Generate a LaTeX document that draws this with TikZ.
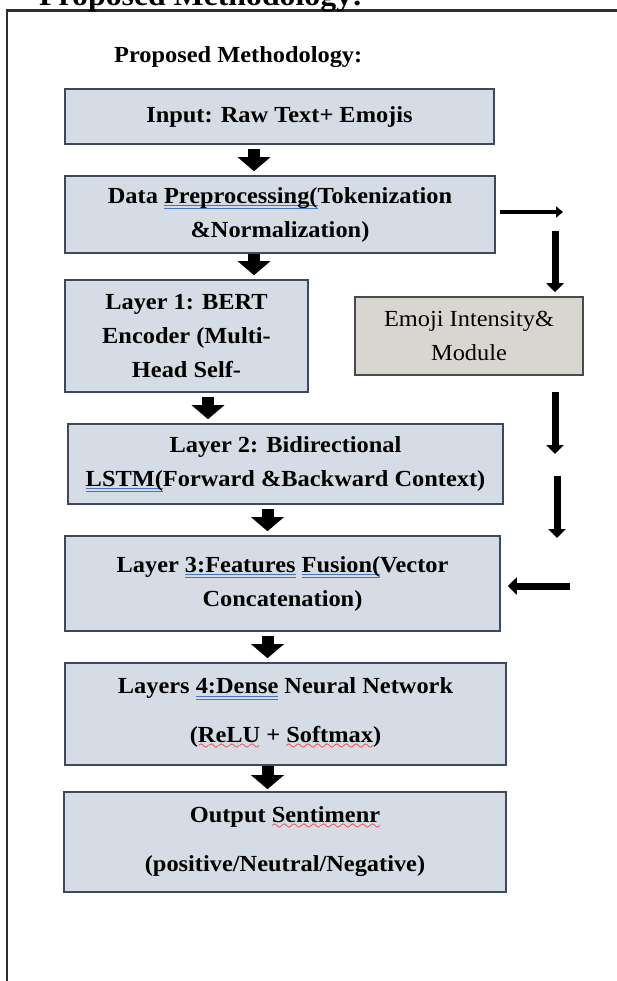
\documentclass[tikz,border=0pt]{standalone}
\usepackage{fontspec}
\setmainfont{Liberation Serif}[FakeStretch=1.06]
\usetikzlibrary{arrows.meta}
\definecolor{boxfill}{HTML}{D6DCE5}
\definecolor{boxline}{HTML}{3E4A5C}
\definecolor{emojifill}{HTML}{D9D5D1}
\definecolor{emojiline}{HTML}{4A4A4A}
\definecolor{framegray}{HTML}{2E2E2E}
\definecolor{gramblue}{HTML}{4472C4}
\font\wavefont=lasy10 scaled 1400
\newsavebox{\markbox}
\newcommand{\gramline}[1]{\sbox{\markbox}{#1}\rlap{\textcolor{gramblue}{\rule[-3pt]{\wd\markbox}{0.8pt}}}\rlap{\textcolor{gramblue}{\rule[-5.5pt]{\wd\markbox}{0.8pt}}}\usebox{\markbox}}
\newcommand{\spellwave}[1]{\sbox{\markbox}{#1}\rlap{\textcolor{red}{\hbox to \wd\markbox{\xleaders\hbox{\lower7pt\hbox{\wavefont\char58}}\hfill}}}\usebox{\markbox}}

\begin{document}
\begin{tikzpicture}[x=1pt,y=-1pt]
\tikzstyle{every node}+=[inner sep=0pt]
\tikzstyle{stage}=[draw=boxline,line width=1.6pt,fill=boxfill,align=center,font=\bfseries\fontsize{23}{34}\selectfont]
\tikzstyle{side}=[stage,draw=emojiline,fill=emojifill,font=\fontsize{23}{34}\selectfont]
\tikzstyle{blockarrow}=[black,line width=12pt,shorten <=4pt,shorten >=4pt,-{Triangle[width=32pt,length=14pt]}]
\tikzstyle{sidearrow}=[black,line width=7pt,-{Triangle[width=17pt,length=9pt]}]
\useasboundingbox (0,0) rectangle (617,981);
\fill [white] (0,0) rectangle (617,981);
\draw [framegray,line width=2.6pt] (620,10.5) -- (7,10.5) -- (7,985);
\node [anchor=base west,font=\bfseries\fontsize{30}{36}\selectfont] (pagetitle) at (39,6) {Proposed Methodology:};
\node [anchor=base west,font=\bfseries\fontsize{23}{28}\selectfont] (title) at (114,63) {Proposed Methodology:};
\node [stage,minimum width=429,minimum height=55] (input) at (279.5,116.5) {Input: Raw Text+ Emojis};
\node [stage,minimum width=430,minimum height=77] (prep) at (280,214.5) {Data \gramline{Preprocessing(}Tokenization\\\&Normalization)};
\node [stage,minimum width=243,minimum height=112] (bert) at (186.5,336) {Layer 1: BERT\\Encoder (Multi-\\Head Self-};
\node [side,minimum width=228,minimum height=78] (emoji) at (469,336) {Emoji Intensity\&\\Module};
\node [stage,minimum width=435,minimum height=80] (lstm) at (285.5,464) {Layer 2: Bidirectional\\\gramline{LSTM(}Forward \&Backward Context)};
\node [stage,minimum width=435,minimum height=95] (fusion) at (282.5,583.5) {Layer \gramline{3:Features} \gramline{Fusion(}Vector\\Concatenation)};
\node [stage,minimum width=441,minimum height=102] (dense) at (285.5,714) {Layers \gramline{4:Dense} Neural Network\\[15pt](\spellwave{ReLU} + \spellwave{Softmax})};
\node [stage,minimum width=442,minimum height=100] (output) at (285,842) {Output \spellwave{Sentimenr}\\[15pt](positive/Neutral/Negative)};
\coordinate (colA) at (254,0);
\coordinate (colB) at (208,0);
\coordinate (colC) at (267.5,0);
\draw [blockarrow] (input.south -| colA) -- (prep.north -| colA);
\draw [blockarrow,shorten <=0pt] (prep.south -| colA) -- (bert.north -| colA);
\draw [blockarrow] (bert.south -| colB) -- (lstm.north -| colB);
\draw [blockarrow] (lstm.south -| colC) -- (fusion.north -| colC);
\draw [blockarrow] (fusion.south -| colC) -- (dense.north -| colC);
\draw [blockarrow,shorten <=0pt,shorten >=2pt] (dense.south -| colC) -- (output.north -| colC);
\coordinate (sideout) at (563,212);
\coordinate (sidein) at (555,231);
\coordinate (sidemid) at (555,454);
\coordinate (sidelow) at (557,476);
\coordinate (sideend) at (557,538);
\coordinate (sideback) at (570,586);
\draw [sidearrow,line width=4pt,-{Triangle[width=11pt,length=7pt]},shorten <=4pt] (prep.east |- sideout) -- (sideout);
\draw [sidearrow,shorten >=4pt] (sidein) -- (emoji.north -| sidein);
\draw [sidearrow,shorten <=16pt] (emoji.south -| sidemid) -- (sidemid);
\draw [sidearrow] (sidelow) -- (sideend);
\draw [sidearrow,shorten >=7pt] (sideback) -- (fusion.east |- sideback);
\end{tikzpicture}
\end{document}
